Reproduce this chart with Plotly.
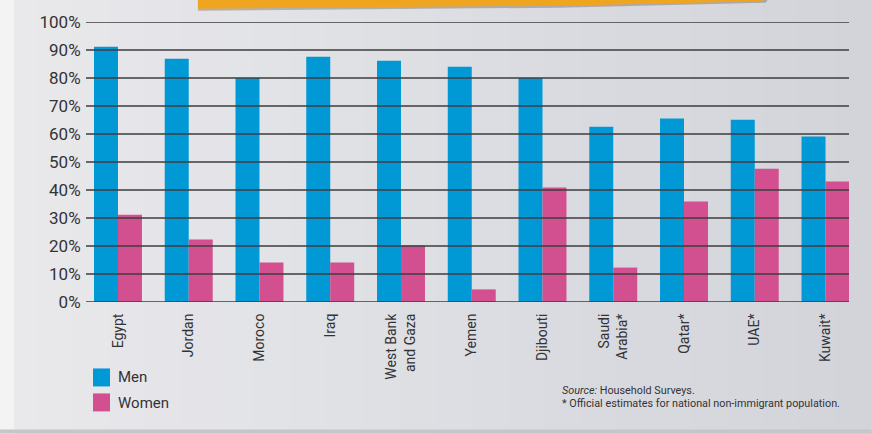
import plotly.graph_objects as go

# ---- data ----
countries = ["Egypt", "Jordan", "Moroco", "Iraq", "West Bank<br>and Gaza", "Yemen",
             "Djibouti", "Saudi<br>Arabia*", "Qatar*", "UAE*", "Kuwait*"]
men = [91.2, 86.9, 80.0, 87.6, 86.2, 84.0, 80.0, 62.6, 65.5, 65.1, 59.1]
women = [31.2, 22.3, 14.1, 14.1, 20.2, 4.5, 40.9, 12.3, 35.9, 47.6, 43.0]
y_ticks = [0, 10, 20, 30, 40, 50, 60, 70, 80, 90, 100]
y_tick_text = [f"{v}%" for v in y_ticks]
series_names = ["Men", "Women"]
source_line = "<i>Source:</i> Household Surveys."
note_line = "* Official estimates for national non-immigrant population."

# ---- style ----
W, H = 872, 434
ML, MR, MT, MB = 86, 22.5, 22.3, 131.5
PW = W - ML - MR
PH = H - MT - MB
BLUE = "#0098d5"
PINK = "#d2508f"
GRID = "#3c3c3e"
TEXT = "#333336"
FONT = "Roboto, 'Noto Sans', sans-serif"

def px(x):
    # figure pixel -> plot-area paper fraction
    return (x - ML) / PW

def py(y):
    return (H - MB - y) / PH

x_idx = list(range(len(countries)))

fig = go.Figure()
fig.add_trace(go.Bar(x=x_idx, y=men, name=series_names[0], marker=dict(color=BLUE, line=dict(width=0)),
                     showlegend=False))
fig.add_trace(go.Bar(x=x_idx, y=women, name=series_names[1], marker=dict(color=PINK, line=dict(width=0)),
                     showlegend=False))

shapes = []
# background gradient bands (decorative, simulating the photographed page)
nb = 24
c0 = (233, 233, 236)
c1 = (210, 212, 218)
for i in range(nb):
    t = i / (nb - 1)
    c = tuple(round(c0[k] + (c1[k] - c0[k]) * t) for k in range(3))
    shapes.append(dict(type="rect", xref="paper", yref="paper",
                       x0=px(W * i / nb), x1=px(W * (i + 1) / nb + 1),
                       y0=py(H), y1=py(0), fillcolor=f"rgb{c}", line=dict(width=0), layer="below"))
# whiter page edge on the left
shapes.append(dict(type="rect", xref="paper", yref="paper", x0=px(0), x1=px(14), y0=py(H), y1=py(0),
                   fillcolor="rgb(243,243,244)", line=dict(width=0), layer="below"))
# bottom shadow line
shapes.append(dict(type="rect", xref="paper", yref="paper", x0=px(0), x1=px(W), y0=py(H), y1=py(430),
                   fillcolor="rgb(196,198,204)", line=dict(width=0), layer="below"))
# orange sticky-note edge at top (with soft shadow)
shadow = (f"M {px(198)},{py(-2)} L {px(198)},{py(11)} L {px(560)},{py(8)} "
          f"L {px(766)},{py(3)} L {px(770)},{py(-2)} Z")
shapes.append(dict(type="path", xref="paper", yref="paper", path=shadow,
                   fillcolor="rgba(90,80,80,0.35)", line=dict(width=0), layer="below"))
path = (f"M {px(198)},{py(-2)} L {px(198)},{py(9)} L {px(560)},{py(6)} "
        f"L {px(762)},{py(1.5)} L {px(766)},{py(-2)} Z")
shapes.append(dict(type="path", xref="paper", yref="paper", path=path,
                   fillcolor="#efa51f", line=dict(width=0), layer="below"))

# gridlines drawn above the bars
for v in y_ticks:
    shapes.append(dict(type="line", xref="paper", yref="y", x0=0, x1=1, y0=v, y1=v,
                       line=dict(color=GRID, width=1.7), layer="above"))

# manual legend squares
shapes.append(dict(type="rect", xref="paper", yref="paper", x0=px(93), x1=px(110), y0=py(387), y1=py(369),
                   fillcolor=BLUE, line=dict(width=0)))
shapes.append(dict(type="rect", xref="paper", yref="paper", x0=px(93), x1=px(110), y0=py(412), y1=py(394),
                   fillcolor=PINK, line=dict(width=0)))

annotations = [
    dict(text=series_names[0], xref="paper", yref="paper", x=px(116), y=py(378), xanchor="left",
         yanchor="middle", showarrow=False, font=dict(family=FONT, size=15, color=TEXT)),
    dict(text=series_names[1], xref="paper", yref="paper", x=px(116), y=py(404), xanchor="left",
         yanchor="middle", showarrow=False, font=dict(family=FONT, size=15, color=TEXT)),
    dict(text=source_line, xref="paper", yref="paper", x=px(560), y=py(391), xanchor="left",
         yanchor="middle", showarrow=False, font=dict(family=FONT, size=10.8, color=TEXT)),
    dict(text=note_line, xref="paper", yref="paper", x=px(560), y=py(404), xanchor="left",
         yanchor="middle", showarrow=False, font=dict(family=FONT, size=10.8, color=TEXT)),
]

fig.update_layout(
    width=W, height=H,
    margin=dict(l=ML, r=MR, t=MT, b=MB, pad=0),
    paper_bgcolor="#e0e1e5",
    plot_bgcolor="rgba(0,0,0,0)",
    barmode="group",
    bargap=0.322,
    bargroupgap=0,
    shapes=shapes,
    annotations=annotations,
    showlegend=False,
    font=dict(family=FONT, color=TEXT),
)
fig.update_xaxes(
    range=[-0.452, 10.332],
    tickmode="array", tickvals=x_idx, ticktext=countries,
    tickangle=-90, tickfont=dict(family=FONT, size=14, color=TEXT),
    ticks="outside", ticklen=5, tickcolor="rgba(0,0,0,0)",
    showgrid=False, zeroline=False, showline=False,
)
fig.update_yaxes(
    range=[0, 100],
    tickmode="array", tickvals=y_ticks, ticktext=y_tick_text,
    tickfont=dict(family=FONT, size=17, color=TEXT),
    ticks="outside", ticklen=1, tickcolor="rgba(0,0,0,0)",
    showgrid=False, zeroline=False, showline=False,
)

fig.write_html("out.html")
